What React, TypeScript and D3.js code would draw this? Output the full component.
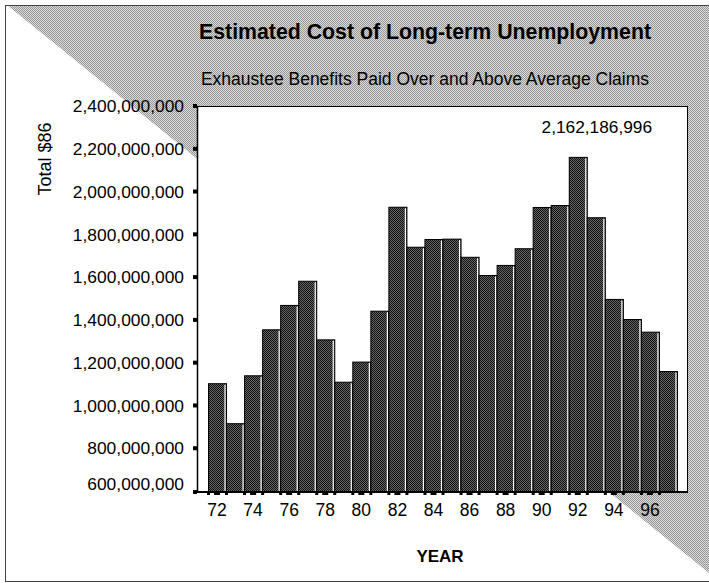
import React from "react";
import * as d3 from "d3";

// Exhaustee benefits paid over and above average claims, 1972–1997 (1986 dollars)
const years: string[] = [
  "72", "73", "74", "75", "76", "77", "78", "79", "80", "81", "82", "83", "84",
  "85", "86", "87", "88", "89", "90", "91", "92", "93", "94", "95", "96", "97",
];
const costs: number[] = [
  1104e6, 917e6, 1141e6, 1356e6, 1470e6, 1583e6, 1309e6, 1111e6, 1205e6, 1443e6,
  1929e6, 1742e6, 1778e6, 1780e6, 1695e6, 1610e6, 1657e6, 1735e6, 1928e6, 1937e6,
  2162186996, 1880e6, 1498e6, 1404e6, 1345e6, 1161e6,
];
const yTicks: number[] = [600e6, 800e6, 1000e6, 1200e6, 1400e6, 1600e6, 1800e6, 2000e6, 2200e6, 2400e6];
const xLabelYears: string[] = ["72", "74", "76", "78", "80", "82", "84", "86", "88", "90", "92", "94", "96"];
const highlightedYear = "92";

const W = 709;
const H = 583;
const plot = { left: 197, top: 106, right: 687, bottom: 492 };
const FONT = "'Liberation Sans', Arial, Helvetica, sans-serif";

export default function App() {
  const y = d3.scaleLinear().domain([600e6, 2400e6]).range([491, plot.top]);
  const x = d3.scaleBand<string>().domain(years).range([208, 677]).padding(0);
  const bw = x.bandwidth();
  const fmt = d3.format(",");
  const base = y(600e6);

  const hiIdx = years.indexOf(highlightedYear);
  const hiValue = costs[hiIdx];

  // diagonal split of the frame: shaded upper-right triangle
  const diag = `M7,5 L${W + 20},5 L${W + 20},${573 + 0.809 * 20} Z`;

  return (
    <svg
      width={W}
      height={H}
      style={{ position: "absolute", left: 0, top: 0, background: "#fff" }}
      fontFamily={FONT}
    >
      <defs>
        <pattern id="shade" width="2" height="2" patternUnits="userSpaceOnUse">
          <rect width="2" height="2" fill="#dcdcdc" />
          <rect x="0" y="0" width="1" height="1" fill="#969696" />
          <rect x="1" y="1" width="1" height="1" fill="#969696" />
        </pattern>
        <pattern id="barFill" width="2" height="2" patternUnits="userSpaceOnUse">
          <rect width="2" height="2" fill="#666" />
          <rect x="0" y="0" width="1" height="1" fill="#111" />
          <rect x="1" y="1" width="1" height="1" fill="#111" />
        </pattern>
        <clipPath id="frameClip">
          <rect x={5} y={5} width={W} height={577} />
        </clipPath>
      </defs>

      {/* outer frame */}
      <g clipPath="url(#frameClip)">
        <path d={diag} fill="url(#shade)" />
      </g>
      <rect x={5.5} y={5.5} width={W + 10} height={576} fill="none" stroke="#444" strokeWidth={1} />

      {/* titles */}
      <text x={425} y={39} textAnchor="middle" fontSize={21.3} fontWeight="bold" fill="#000">
        Estimated Cost of Long-term Unemployment
      </text>
      <text x={425} y={85} textAnchor="middle" fontSize={17.5} fill="#000">
        Exhaustee Benefits Paid Over and Above Average Claims
      </text>

      {/* plot area */}
      <rect
        x={plot.left + 0.5}
        y={plot.top + 0.5}
        width={plot.right - plot.left}
        height={plot.bottom - plot.top}
        fill="#fff"
        stroke="#000"
        strokeWidth={1}
      />

      {/* bars */}
      {years.map((yr, i) => {
        const bx = x(yr)!;
        const by = y(costs[i]);
        return (
          <g key={yr}>
            <rect
              x={bx + 0.5}
              y={by + 0.5}
              width={bw}
              height={base - by}
              fill="url(#barFill)"
              stroke="#000"
              strokeWidth={1}
            />
            <line
              x1={bx + bw - 1}
              x2={bx + bw - 1}
              y1={by + 1.5}
              y2={base}
              stroke="#fff"
              strokeWidth={1.2}
            />
          </g>
        );
      })}

      {/* axes */}
      <line x1={plot.left} x2={plot.right + 1} y1={plot.bottom} y2={plot.bottom} stroke="#000" strokeWidth={2} />
      <line x1={plot.left + 0.5} x2={plot.left + 0.5} y1={plot.top} y2={plot.bottom} stroke="#000" strokeWidth={1.5} />

      {/* y ticks and labels */}
      {yTicks.map((t, i) => {
        const ty = i === 0 ? plot.bottom : y(t);
        const ly = i === 0 ? y(t) - 7 : y(t);
        return (
          <g key={t}>
            <rect x={193} y={ty - 2} width={4} height={4} fill="#000" />
            <text x={184} y={ly} dy="0.36em" textAnchor="end" fontSize={17.4} fill="#000">
              {fmt(t)}
            </text>
          </g>
        );
      })}

      {/* x ticks */}
      {years.map((yr) => (
        <rect key={"t" + yr} x={x(yr)! - 1} y={plot.bottom} width={3} height={3} fill="#000" />
      ))}
      {xLabelYears.map((yr) => (
        <rect key={"m" + yr} x={x(yr)! + bw / 2 - 3} y={plot.bottom} width={6} height={3} fill="#000" />
      ))}

      {/* x labels */}
      {xLabelYears.map((yr) => (
        <text
          key={"l" + yr}
          x={x(yr)! + bw / 2}
          y={516}
          textAnchor="middle"
          fontSize={17.5}
          fill="#000"
        >
          {yr}
        </text>
      ))}

      {/* value label for the peak year */}
      <text x={x(highlightedYear)! + bw / 2 + 19} y={133} textAnchor="middle" fontSize={17.3} fill="#000">
        {fmt(hiValue)}
      </text>

      {/* axis titles */}
      <text
        transform="translate(51,159) rotate(-90)"
        textAnchor="middle"
        fontSize={18}
        fill="#000"
      >
        Total $86
      </text>
      <text x={440} y={562} textAnchor="middle" fontSize={17} fontWeight="bold" fill="#000">
        YEAR
      </text>
    </svg>
  );
}
